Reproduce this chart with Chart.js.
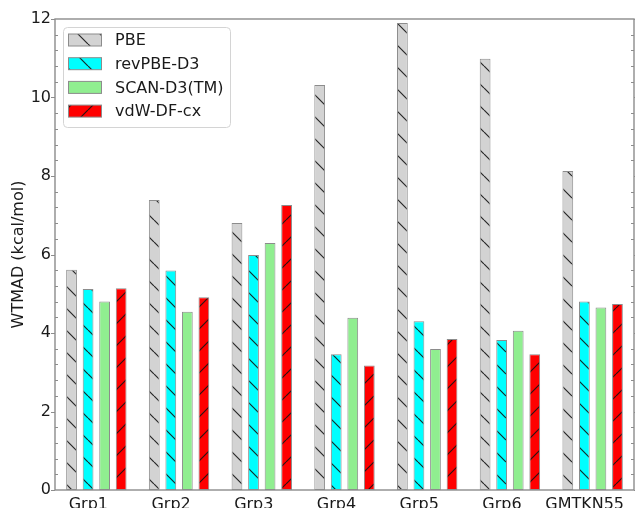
<!DOCTYPE html>
<html>
<head>
<meta charset="utf-8">
<script src="https://cdn.jsdelivr.net/npm/chart.js@4.4.0/dist/chart.umd.min.js"></script>
<style>
  html, body { margin: 0; padding: 0; background: #fff; overflow: hidden; }
  #chart { display: block; }
</style>
</head>
<body>
<canvas id="chart" width="635" height="508"></canvas>
<script>
// 데이터
const groups = ['Grp1', 'Grp2', 'Grp3', 'Grp4', 'Grp5', 'Grp6', 'GMTKN55'];
const pbe = [5.61, 7.39, 6.80, 10.32, 11.90, 10.99, 8.13];
const revpbeD3 = [5.12, 5.59, 5.99, 3.46, 4.30, 3.82, 4.80];
const scanD3 = [4.80, 4.54, 6.29, 4.39, 3.59, 4.06, 4.65];
const vdwDfCx = [5.14, 4.91, 7.26, 3.17, 3.85, 3.46, 4.74];
const yTicks = [0, 2, 4, 6, 8, 10, 12];
const minorStep = 0.4;

const FONT = 'DejaVu Sans';
const EDGE = '#8c8c8c';

// 해칭 패턴 생성
function makeHatch(fill, dir) {
    const size = 22;
    const c = document.createElement('canvas');
    c.width = size;
    c.height = size;
    const g = c.getContext('2d');
    g.fillStyle = fill;
    g.fillRect(0, 0, size, size);
    if (dir) {
        g.strokeStyle = 'rgba(20,20,20,0.9)';
        g.lineWidth = 1.2;
        g.beginPath();
        [-size, 0, size].forEach(k => {
            if (dir === 'back') {
                g.moveTo(k, 0);
                g.lineTo(k + size, size);
            } else {
                g.moveTo(k, size);
                g.lineTo(k + size, 0);
            }
        });
        g.stroke();
    }
    return g.createPattern(c, 'repeat');
}

// 축 테두리와 눈금
const framePlugin = {
    id: 'frame',
    afterDatasetsDraw(chart) {
        const { ctx, chartArea: a, scales: { y } } = chart;
        ctx.save();
        ctx.strokeStyle = EDGE;
        ctx.lineWidth = 1.4;
        ctx.strokeRect(a.left, a.top, a.right - a.left, a.bottom - a.top);
        ctx.lineWidth = 1;
        ctx.beginPath();
        const n = Math.round(y.max / minorStep);
        for (let i = 0; i <= n; i++) {
            const py = Math.round(y.getPixelForValue(i * minorStep)) + 0.5;
            if (i % 5 === 0) {
                ctx.moveTo(a.left - 4, py); ctx.lineTo(a.left, py);
                ctx.moveTo(a.right, py); ctx.lineTo(a.right + 4, py);
            } else {
                ctx.moveTo(a.left, py); ctx.lineTo(a.left + 3, py);
                ctx.moveTo(a.right - 3, py); ctx.lineTo(a.right, py);
            }
        }
        ctx.stroke();
        ctx.restore();
    }
};

// 범례 (차트 영역 내부)
const legendPlugin = {
    id: 'innerLegend',
    afterDraw(chart) {
        const { ctx } = chart;
        const x0 = 63, y0 = 27, w = 167, h = 100;
        ctx.save();
        ctx.fillStyle = 'rgba(255,255,255,0.85)';
        ctx.strokeStyle = '#d4d4d4';
        ctx.lineWidth = 1;
        ctx.beginPath();
        ctx.roundRect(x0 + 0.5, y0 + 0.5, w, h, 4);
        ctx.fill();
        ctx.stroke();
        ctx.font = '16px "' + FONT + '"';
        ctx.textBaseline = 'middle';
        ctx.textAlign = 'left';
        chart.data.datasets.forEach((ds, i) => {
            const cy = 40 + i * 23.7;
            ctx.fillStyle = ds.backgroundColor;
            ctx.fillRect(68.5, cy - 6, 33, 12);
            ctx.strokeStyle = EDGE;
            ctx.strokeRect(68.5, cy - 6, 33, 12);
            ctx.fillStyle = '#1a1a1a';
            ctx.fillText(ds.label, 115, cy + 1);
        });
        ctx.restore();
    }
};

const barStyle = {
    borderColor: EDGE,
    borderWidth: 1,
    borderSkipped: false,
    categoryPercentage: 0.8,
    barPercentage: 0.65
};

new Chart(document.getElementById('chart'), {
    type: 'bar',
    data: {
        labels: groups,
        datasets: [
            { label: 'PBE', data: pbe, backgroundColor: makeHatch('#d3d3d3', 'back'), ...barStyle },
            { label: 'revPBE-D3', data: revpbeD3, backgroundColor: makeHatch('#00ffff', 'back'), ...barStyle },
            { label: 'SCAN-D3(TM)', data: scanD3, backgroundColor: makeHatch('#90ee90', null), ...barStyle },
            { label: 'vdW-DF-cx', data: vdwDfCx, backgroundColor: makeHatch('#ff0000', 'fwd'), ...barStyle }
        ]
    },
    options: {
        responsive: false,
        animation: false,
        devicePixelRatio: 1,
        layout: { padding: { top: 19, right: 1, left: 0, bottom: 0 } },
        plugins: {
            legend: { display: false },
            tooltip: { enabled: false }
        },
        scales: {
            x: {
                type: 'category',
                offset: true,
                grid: { display: false },
                border: { display: false },
                ticks: {
                    font: { family: FONT, size: 16 },
                    color: '#1a1a1a',
                    padding: -3,
                    labelOffset: -8,
                    maxRotation: 0,
                    autoSkip: false
                },
                afterFit: s => { s.height = 18; }
            },
            y: {
                min: 0,
                max: 12,
                grid: { display: false, drawTicks: false },
                border: { display: false },
                ticks: {
                    font: { family: FONT, size: 16 },
                    color: '#1a1a1a',
                    padding: 4
                },
                afterBuildTicks: s => { s.ticks = yTicks.map(v => ({ value: v })); },
                title: {
                    display: true,
                    text: 'WTMAD (kcal/mol)',
                    font: { family: FONT, size: 16 },
                    color: '#1a1a1a',
                    padding: { top: 9, bottom: 0 }
                },
                afterFit: s => { s.width = 55; }
            }
        }
    },
    plugins: [framePlugin, legendPlugin]
});
</script>
</body>
</html>
